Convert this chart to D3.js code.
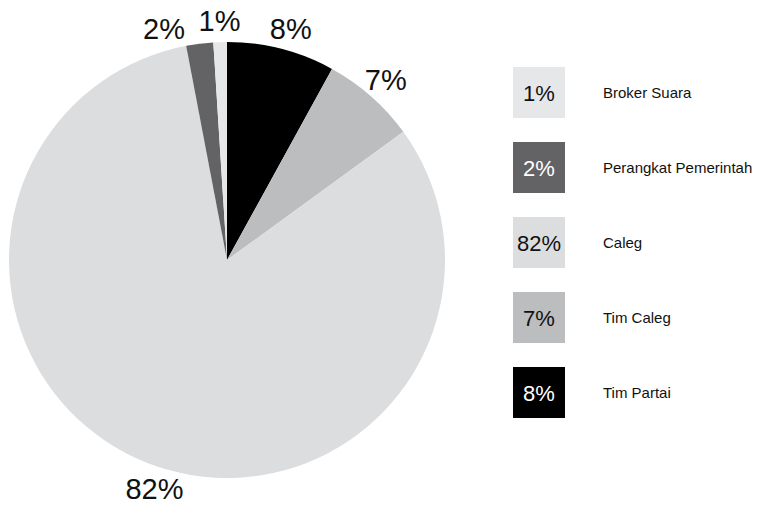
<!DOCTYPE html>
<html lang="id">
<head>
    <meta charset="UTF-8">
    <title>Pie</title>
    <style>
        body { margin: 0; background: #fff; }
        svg { font-family: "Liberation Sans", Arial, sans-serif; }
    </style>
</head>
<body>
    <div id="chart"></div>
    <script src="https://d3js.org/d3.v7.min.js"></script>
    <script>
        // datos (orden del gráfico, desde arriba en sentido horario)
        const categories = ["Tim Partai", "Tim Caleg", "Caleg", "Perangkat Pemerintah", "Broker Suara"];
        const values = [8, 7, 82, 2, 1];
        const colors = ["#000000", "#bcbdbf", "#dcdddf", "#636366", "#e6e7e8"];
        // orden de la leyenda
        const legendOrder = ["Broker Suara", "Perangkat Pemerintah", "Caleg", "Tim Caleg", "Tim Partai"];

        const WIDTH = 760, HEIGHT = 505;
        const CX = 227, CY = 260, R = 218, LABEL_R = 240;
        // pequeños ajustes de ángulo (grados) para que no se monten las etiquetas
        const labelNudge = { "Perangkat Pemerintah": -8, "Broker Suara": 0, "Caleg": -4, "Tim Partai": 1 };

        const svg = d3.select("#chart").append("svg")
            .attr("width", WIDTH)
            .attr("height", HEIGHT);

        const color = d3.scaleOrdinal().domain(categories).range(colors);

        const pie = d3.pie().sort(null).value(d => d.value);
        const data = categories.map((c, i) => ({ name: c, value: values[i] }));
        const arcs = pie(data);

        const arc = d3.arc().innerRadius(0).outerRadius(R);

        const g = svg.append("g").attr("transform", `translate(${CX},${CY})`);

        g.selectAll("path")
            .data(arcs)
            .enter()
            .append("path")
            .attr("d", arc)
            .attr("fill", d => color(d.data.name));

        // etiquetas de porcentaje fuera de la tarta
        g.selectAll("text.lbl")
            .data(arcs)
            .enter()
            .append("text")
            .attr("class", "lbl")
            .attr("transform", d => {
                const a = (d.startAngle + d.endAngle) / 2 + (labelNudge[d.data.name] || 0) * Math.PI / 180;
                return `translate(${LABEL_R * Math.sin(a)},${-LABEL_R * Math.cos(a)})`;
            })
            .attr("text-anchor", "middle")
            .attr("dy", "0.36em")
            .attr("font-size", 29)
            .attr("fill", "#111")
            .text(d => d.data.value + "%");

        // leyenda
        const legend = svg.append("g").attr("transform", "translate(513,67)");
        const y = d3.scalePoint().domain(legendOrder).range([0, 300]);

        const item = legend.selectAll("g")
            .data(legendOrder)
            .enter()
            .append("g")
            .attr("transform", d => `translate(0,${y(d)})`);

        item.append("rect")
            .attr("width", 52)
            .attr("height", 51)
            .attr("fill", d => color(d));

        item.append("text")
            .attr("x", 26)
            .attr("y", 26)
            .attr("dy", "0.36em")
            .attr("text-anchor", "middle")
            .attr("font-size", 22)
            .attr("fill", d => (d === "Tim Partai" || d === "Perangkat Pemerintah") ? "#fff" : "#111")
            .text(d => values[categories.indexOf(d)] + "%");

        item.append("text")
            .attr("x", 90)
            .attr("y", 26)
            .attr("dy", "0.36em")
            .attr("font-size", 15)
            .attr("fill", "#111")
            .text(d => d);
    </script>
</body>
</html>
